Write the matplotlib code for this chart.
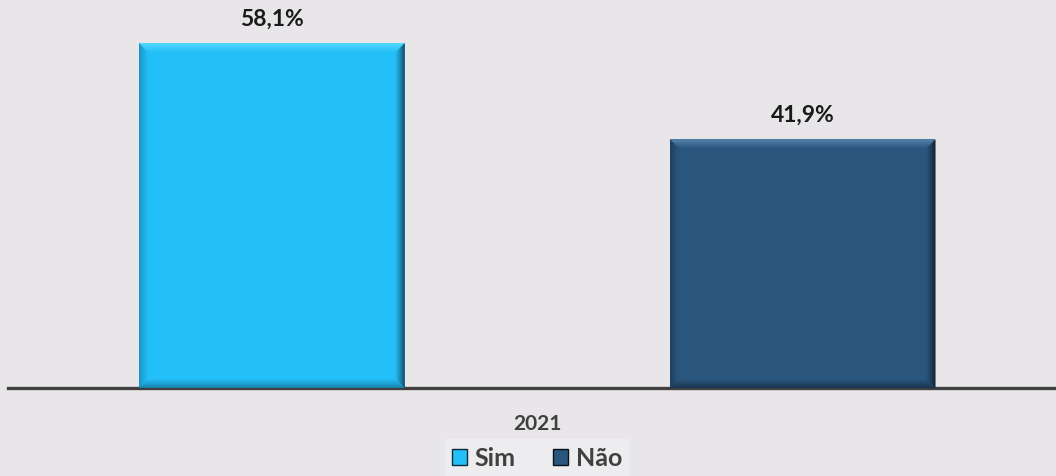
import numpy as np
import matplotlib.pyplot as plt
from matplotlib.colors import to_rgb
from matplotlib.patches import Polygon, Patch

# pesquisa 2021 - distribuição das respostas
categories = ["Sim", "Não"]
values = [58.1, 41.9]
group_label = "2021"

face_colors = ["#23BFF8", "#2A567E"]
top_colors = ["#62E2FC", "#6792BE"]
left_colors = ["#1A8CB8", "#1D405F"]
bottom_colors = ["#177FA8", "#18344F"]
right_colors = ["#0C2B38", "#08121C"]
bg = "#E8E6E9"

plt.rcParams['font.family'] = ['Lato', 'DejaVu Sans']


def mix(c_edge, c_face, f):
    a, b = np.array(to_rgb(c_edge)), np.array(to_rgb(c_face))
    return tuple(a + (b - a) * f)


def bevel(fig, bar, face, edges, depth=9):
    # edges: top, right, bottom, left colour at the outer border
    x0, y0, x1, y1 = bar.get_window_extent().extents
    for i in range(depth):
        t0, t1 = i, i + 1
        f = (i / depth) ** 0.8
        sides = [
            [(x0 + t0, y1 - t0), (x1 - t0, y1 - t0), (x1 - t1, y1 - t1), (x0 + t1, y1 - t1)],
            [(x1 - t0, y1 - t0), (x1 - t0, y0 + t0), (x1 - t1, y0 + t1), (x1 - t1, y1 - t1)],
            [(x0 + t0, y0 + t0), (x1 - t0, y0 + t0), (x1 - t1, y0 + t1), (x0 + t1, y0 + t1)],
            [(x0 + t0, y0 + t0), (x0 + t0, y1 - t0), (x0 + t1, y1 - t1), (x0 + t1, y0 + t1)],
        ]
        for pts, ce in zip(sides, edges):
            fig.patches.append(Polygon(pts, closed=True, facecolor=mix(ce, face, f),
                                       edgecolor='none', transform=None, figure=fig, zorder=3))


fig = plt.figure(figsize=(10.56, 4.76), dpi=100, facecolor=bg)
ax = fig.add_axes([8 / 1056, 88 / 476, 1 - 8 / 1056, 388 / 476])
ax.set_facecolor(bg)

xpos = [0, 1]
bars = ax.bar(xpos, values, width=0.5, color=face_colors, zorder=2)

ax.set_xlim(-0.497, 1.477)
ax.set_ylim(0, 65.4)

fig.canvas.draw()
for k, bar in enumerate(bars):
    bevel(fig, bar, face_colors[k],
          [top_colors[k], right_colors[k], bottom_colors[k], left_colors[k]])

for x, v in zip(xpos, values):
    ax.annotate(f"{v:.1f}%".replace(".", ","), (x, v), xytext=(0, 10), textcoords='offset points',
                ha='center', va='bottom', fontsize=16.5, fontweight='bold', color='#1A1A1A')

for s in ['top', 'right', 'left']:
    ax.spines[s].set_visible(False)
ax.spines['bottom'].set_color('#404040')
ax.spines['bottom'].set_linewidth(2.4)
ax.spines['bottom'].set_zorder(5)
ax.set_yticks([])
ax.set_xticks([0.5])
ax.set_xticklabels([group_label], fontsize=15, fontweight='bold', color='#404040')
ax.tick_params(axis='x', length=0, pad=19)

handles = [Patch(facecolor=c, edgecolor=d, linewidth=1.0) for c, d in zip(face_colors, right_colors)]
leg = fig.legend(handles, categories, loc='center', bbox_to_anchor=(537 / 1056, 1 - 458 / 476),
                 ncol=2, frameon=True, facecolor='#EFEEF0', edgecolor='none', fancybox=False,
                 prop={'size': 18, 'weight': 'bold'}, handlelength=0.6, handleheight=0.6,
                 handletextpad=0.3, columnspacing=1.5, borderpad=0.3, borderaxespad=0)
for t in leg.get_texts():
    t.set_color('#404040')

fig.savefig("out.png", dpi=100, facecolor=bg)
